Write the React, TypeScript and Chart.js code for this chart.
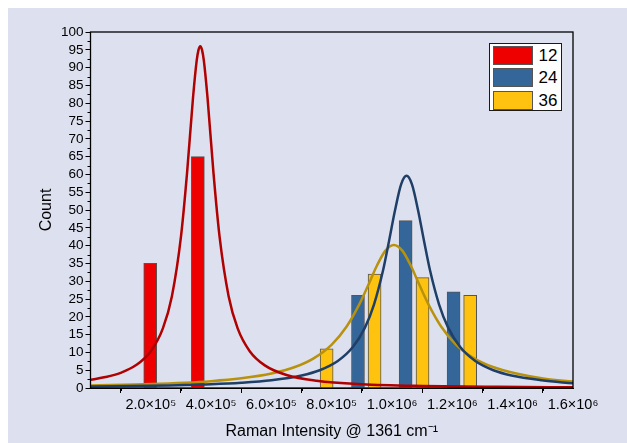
import React, { useEffect, useRef } from 'react';
import { Chart, registerables } from 'chart.js';

Chart.register(...registerables);

// ---- data ----
const seriesLabels = ['12', '24', '36'];

const redBarX = [198000, 356000];
const redBarCounts = [35, 65];

const blueBarX = [887000, 1045000, 1204000];
const blueBarCounts = [26, 47, 27];

const yellowBarX = [783000, 942000, 1101000, 1259000];
const yellowBarCounts = [11, 32, 31, 26];

const redFitX = [0, 50000, 100000, 150000, 200000, 240000, 270000, 300000, 320000, 340000, 352000, 358000, 364000, 370000, 376000, 388000, 408000, 428000, 458000, 488000, 528000, 578000, 650000, 750000, 900000, 1100000, 1350000, 1600000];
const redFitY = [2.3, 3.07, 4.27, 6.36, 10.35, 16.75, 25.8, 42.5, 60.2, 81.6, 91.9, 94.9, 96, 94.9, 91.9, 81.6, 60.2, 42.5, 25.8, 16.75, 10.35, 6.36, 3.66, 2.05, 1.07, 0.57, 0.32, 0.2];

const blueFitX = [0, 200000, 400000, 500000, 600000, 700000, 760000, 820000, 870000, 910000, 940000, 970000, 990000, 1010000, 1030000, 1048000, 1066000, 1086000, 1106000, 1126000, 1156000, 1186000, 1226000, 1276000, 1336000, 1396000, 1496000, 1600000];
const blueFitY = [0.41, 0.62, 1.05, 1.46, 2.17, 3.51, 4.98, 7.57, 11.49, 16.95, 23.45, 33.0, 41.3, 50.0, 57.2, 59.6, 57.2, 50.0, 41.3, 33.0, 23.45, 16.95, 11.49, 7.57, 4.98, 3.51, 2.17, 1.3];

const yellowFitX = [0, 200000, 400000, 500000, 600000, 680000, 740000, 800000, 850000, 890000, 920000, 950000, 978000, 1006000, 1034000, 1062000, 1092000, 1122000, 1162000, 1212000, 1272000, 1332000, 1412000, 1506000, 1600000];
const yellowFitY = [0.72, 1.11, 1.93, 2.71, 4.06, 5.96, 8.33, 12.2, 17.36, 23.27, 28.7, 34.4, 38.6, 40.2, 38.6, 34.4, 28.7, 23.27, 17.36, 12.2, 8.33, 5.96, 4.06, 2.6, 1.8];

const xTickLabels = ['', '2.0×10⁵', '4.0×10⁵', '6.0×10⁵', '8.0×10⁵', '1.0×10⁶', '1.2×10⁶', '1.4×10⁶', '1.6×10⁶'];
const xMinorTicks = [100000, 300000, 500000, 700000, 900000, 1100000, 1300000, 1500000];
const yMinorTicks = [2.5, 7.5, 12.5, 17.5, 22.5, 27.5, 32.5, 37.5, 42.5, 47.5, 52.5, 57.5, 62.5, 67.5, 72.5, 77.5, 82.5, 87.5, 92.5, 97.5];

// ---- styles ----
const BG = '#dde1ef';
const barColors = ['#ee0000', '#346699', '#ffc20f'];
const fitColors = ['#b00000', '#1f3f66', '#b8920c'];
const FONT = "'Liberation Sans', Arial, sans-serif";

const pts = (xs: number[], ys: number[]) => xs.map((x, i) => ({ x, y: ys[i] }));

const framePlugin = {
  id: 'frameAndMinorTicks',
  afterDatasetsDraw(chart: any) {
    const { ctx, chartArea: a, scales } = chart;
    ctx.save();
    ctx.strokeStyle = '#000';
    ctx.lineWidth = 1.3;
    ctx.strokeRect(a.left, a.top, a.right - a.left, a.bottom - a.top);
    ctx.lineWidth = 1;
    ctx.beginPath();
    xMinorTicks.forEach((v) => {
      const px = Math.round(scales.x.getPixelForValue(v)) + 0.5;
      ctx.moveTo(px, a.bottom);
      ctx.lineTo(px, a.bottom + 3);
    });
    yMinorTicks.forEach((v) => {
      const py = Math.round(scales.y.getPixelForValue(v)) + 0.5;
      ctx.moveTo(a.left, py);
      ctx.lineTo(a.left - 3, py);
    });
    ctx.stroke();
    ctx.restore();
  },
};

export default function App() {
  const canvasRef = useRef<HTMLCanvasElement | null>(null);

  useEffect(() => {
    if (!canvasRef.current) return;
    Chart.defaults.font.family = FONT;
    const barCommon = {
      type: 'bar' as const,
      borderColor: '#555555',
      borderWidth: 1,
      barThickness: 13,
      grouped: false,
      order: 2,
    };
    const lineCommon = {
      type: 'line' as const,
      pointRadius: 0,
      borderWidth: 2.5,
      fill: false,
      cubicInterpolationMode: 'monotone' as const,
      order: 0,
    };
    const chart = new Chart(canvasRef.current, {
      type: 'bar',
      data: {
        datasets: [
          { ...barCommon, label: seriesLabels[0], data: pts(redBarX, redBarCounts), backgroundColor: barColors[0] },
          { ...barCommon, label: seriesLabels[1], data: pts(blueBarX, blueBarCounts), backgroundColor: barColors[1] },
          { ...barCommon, label: seriesLabels[2], data: pts(yellowBarX, yellowBarCounts), backgroundColor: barColors[2] },
          { ...lineCommon, label: seriesLabels[0] + ' fit', data: pts(redFitX, redFitY), borderColor: fitColors[0] },
          { ...lineCommon, label: seriesLabels[1] + ' fit', data: pts(blueFitX, blueFitY), borderColor: fitColors[1] },
          { ...lineCommon, label: seriesLabels[2] + ' fit', data: pts(yellowFitX, yellowFitY), borderColor: fitColors[2] },
        ] as any,
      },
      options: {
        responsive: false,
        animation: false,
        layout: { padding: { left: 0, top: 24, right: 54, bottom: 0 } },
        plugins: { legend: { display: false }, tooltip: { enabled: false } },
        scales: {
          x: {
            type: 'linear',
            min: 0,
            max: 1600000,
            offset: false,
            afterFit: (s: any) => { s.height = 55; },
            grid: { display: true, drawOnChartArea: false, drawTicks: true, tickLength: 5, color: '#000', tickColor: '#000' },
            border: { display: true, color: '#000', width: 1 },
            ticks: {
              stepSize: 200000,
              autoSkip: false,
              maxRotation: 0,
              color: '#000',
              padding: 3,
              font: { size: 14.5, family: FONT },
              callback: (_v: any, i: number) => xTickLabels[i] ?? '',
            },
            title: { display: true, text: 'Raman Intensity @ 1361 cm⁻¹', color: '#000', font: { size: 16, family: FONT }, padding: { top: 0, bottom: 2 } },
          },
          y: {
            type: 'linear',
            min: 0,
            max: 100,
            afterFit: (s: any) => { s.width = 82.5; },
            grid: { display: true, drawOnChartArea: false, drawTicks: true, tickLength: 5, color: '#000', tickColor: '#000' },
            border: { display: true, color: '#000', width: 1 },
            ticks: { stepSize: 5, autoSkip: false, color: '#000', padding: 2, font: { size: 13.5, family: FONT } },
            title: { display: true, text: 'Count', color: '#000', font: { size: 16, family: FONT }, padding: { top: 29, bottom: 0 } },
          },
        },
      } as any,
      plugins: [framePlugin],
    });
    return () => chart.destroy();
  }, []);

  const swatchTops = [1.7, 23.7, 46.7];

  return (
    <div style={{ position: 'fixed', left: 8, top: 8, width: 619, height: 435, background: BG, overflow: 'hidden' }}>
      <canvas ref={canvasRef} width={619} height={435} style={{ display: 'block' }} />
      <div
        style={{
          position: 'absolute',
          left: 480.5,
          top: 35,
          width: 71,
          height: 66,
          background: '#ffffff',
          border: '1px solid #1a1a1a',
          fontFamily: FONT,
        }}
      >
        {seriesLabels.map((lab, i) => (
          <div key={lab} style={{ position: 'absolute', left: 3, top: swatchTops[i], height: 19, display: 'flex', alignItems: 'center' }}>
            <div style={{ width: 38, height: 17, background: barColors[i], border: '1px solid #555' }} />
            <span style={{ marginLeft: 6, fontSize: 17, color: '#000', lineHeight: '19px' }}>{lab}</span>
          </div>
        ))}
      </div>
    </div>
  );
}
